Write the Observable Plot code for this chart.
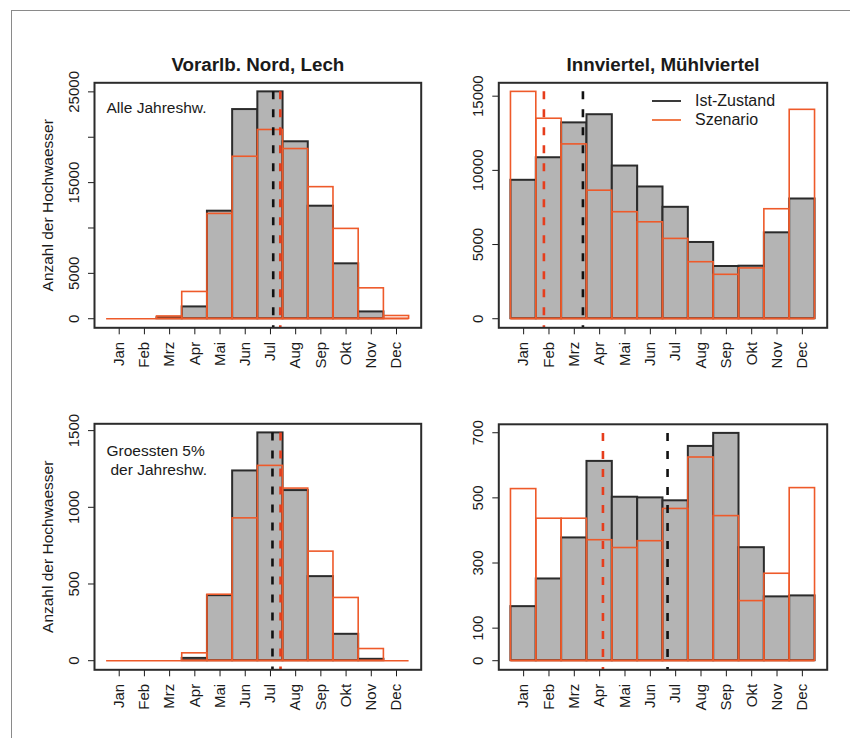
<!DOCTYPE html>
<html><head><meta charset="utf-8">
<script src="https://cdn.jsdelivr.net/npm/d3@7"></script>
<script src="https://cdn.jsdelivr.net/npm/@observablehq/plot@0.6"></script>
<style>
body{margin:0;background:#fff;}
#fig{position:relative;width:850px;height:738px;overflow:hidden;font-family:"Liberation Sans",Arial,sans-serif;color:#1a1a1a;}
#border{position:absolute;left:11px;top:10px;width:900px;height:900px;border-left:1.5px solid #8a8a8a;border-top:1.5px solid #8a8a8a;}
.panel{position:absolute;}
.lg-line{position:absolute;height:0;width:29px;}
.lg-text{position:absolute;font-size:16px;line-height:18px;white-space:nowrap;}
</style></head><body>
<div id="fig"><div id="border"></div></div>
<script>
// ---- data ----
const months = ["Jan","Feb","Mrz","Apr","Mai","Jun","Jul","Aug","Sep","Okt","Nov","Dec"];
const titles = ["Vorarlb. Nord, Lech", "Innviertel, Mühlviertel"];
const notes = ["Alle Jahreshw.", "Groessten 5%", "der Jahreshw."];
const yAxisTitle = "Anzahl der Hochwaesser";
const legendLabels = ["Ist-Zustand", "Szenario"];

// Vorarlb. Nord, Lech – alle Jahreshochwässer
const istNordAll  = [0, 0, 100, 1300, 11850, 23050, 25000, 19500, 12400, 6050, 750, 0];
const szenNordAll = [0, 0, 250, 2950, 11550, 17850, 20800, 18700, 14500, 9900, 3350, 300];
// Innviertel, Mühlviertel – alle Jahreshochwässer
const istInnAll   = [9330, 10850, 13200, 13750, 10290, 8880, 7510, 5140, 3520, 3540, 5790, 8070];
const szenInnAll  = [15290, 13480, 11750, 8630, 7180, 6500, 5380, 3810, 2960, 3390, 7380, 14080];
// Vorarlb. Nord, Lech – größten 5%
const istNord5    = [0, 0, 0, 15, 424, 1237, 1485, 1109, 548, 172, 9, 0];
const szenNord5   = [0, 0, 0, 48, 430, 928, 1270, 1122, 711, 409, 76, 0];
// Innviertel, Mühlviertel – größten 5%
const istInn5     = [166, 251, 377, 612, 502, 500, 491, 658, 698, 347, 196, 199];
const szenInn5    = [527, 436, 436, 370, 346, 367, 466, 624, 444, 183, 267, 530];

// mittlerer Monat (gestrichelte Linien)
const meanIst  = [7.11, 3.34, 7.08, 6.68];
const meanSzen = [7.39, 1.80, 7.40, 4.13];

// y-Achsen Ticks und beschriftete Ticks
const yTicksNordAll = [0, 5000, 10000, 15000, 20000, 25000];
const yLabsNordAll  = [0, 5000, 15000, 25000];
const yTicksInnAll  = [0, 5000, 10000, 15000];
const yTicksNord5   = [0, 500, 1000, 1500];
const yTicksInn5    = [0, 100, 300, 500, 700];

// ---- drawing ----
const GRAY = "#b4b4b4", DARK = "#2b2b2b", ORANGE = "#ee5a2a", RED = "#e63d1c";
const monthNums = months.map((_, i) => i + 1);
const fig = document.getElementById("fig");

function panel(cfg) {
  const ist = cfg.ist.map((v, i) => ({m: monthNums[i], v}));
  const szen = cfg.szen.map((v, i) => ({m: monthNums[i], v}));
  const ymax = d3.max([...cfg.ist, ...cfg.szen]);
  const ylo = -0.04 * ymax, yhi = 1.04 * ymax;
  const xlo = monthNums[0] - 0.5, xhi = monthNums[monthNums.length - 1] + 0.5;
  const xpad = 0.04 * (xhi - xlo);
  const marks = [
    Plot.rect(ist, {x1: d => d.m - 0.5, x2: d => d.m + 0.5, y1: 0, y2: "v", fill: GRAY, stroke: DARK, strokeWidth: 2}),
    Plot.rect(szen, {x1: d => d.m - 0.5, x2: d => d.m + 0.5, y1: 0, y2: "v", fill: "none", stroke: ORANGE, strokeWidth: 1.6}),
    Plot.ruleY([0], {x1: xlo, x2: xhi, stroke: ORANGE, strokeWidth: 1.6}),
    Plot.ruleX([cfg.mIst], {y1: ymax, y2: ylo, stroke: "#111", strokeWidth: 2.6, strokeDasharray: "8,10"}),
    Plot.ruleX([cfg.mSzen], {y1: ymax, y2: ylo, stroke: RED, strokeWidth: 2.6, strokeDasharray: "8,10"}),
    Plot.frame({stroke: DARK, strokeWidth: 2})
  ];
  if (cfg.title) marks.push(Plot.text([cfg.title], {frameAnchor: "top", dy: -25, fontSize: 18.8, fontWeight: "bold"}));
  if (cfg.ylabel) marks.push(Plot.text([cfg.ylabel], {frameAnchor: "left", textAnchor: "middle", lineAnchor: "middle", dx: -46, rotate: -90, fontSize: 15.5}));
  (cfg.notes || []).forEach(n => marks.push(Plot.text([n.t], {frameAnchor: "top-left", textAnchor: "start", dx: n.dx, dy: n.dy, fontSize: 15.5})));
  const svg = Plot.plot({
    width: cfg.w, height: cfg.h,
    marginLeft: cfg.ml, marginRight: cfg.mr, marginTop: cfg.mt, marginBottom: cfg.mb,
    style: {background: "transparent", fontFamily: "'Liberation Sans', Arial, sans-serif", fontSize: "15px", color: "#1a1a1a", overflow: "visible"},
    x: {domain: [xlo - xpad, xhi + xpad], ticks: monthNums, tickFormat: d => months[d - 1], tickRotate: -90, tickSize: 7, tickPadding: 7, label: null},
    y: {domain: [ylo, yhi], ticks: cfg.yTicks, tickFormat: d => (cfg.yLabs || cfg.yTicks).includes(d) ? String(d) : "", tickRotate: -90, tickSize: 6, tickPadding: 10, label: null},
    marks
  });
  const wrap = document.createElement("div");
  wrap.className = "panel";
  wrap.style.left = cfg.left + "px";
  wrap.style.top = cfg.top + "px";
  wrap.appendChild(svg);
  fig.appendChild(wrap);
}

panel({ist: istNordAll, szen: szenNordAll, mIst: meanIst[0], mSzen: meanSzen[0], yTicks: yTicksNordAll, yLabs: yLabsNordAll,
  title: titles[0], ylabel: yAxisTitle, notes: [{t: notes[0], dx: 12, dy: 19.5}],
  left: 0, top: 0, w: 425, h: 380, ml: 94, mr: 4.3, mt: 82.3, mb: 52.7});
panel({ist: istInnAll, szen: szenInnAll, mIst: meanIst[1], mSzen: meanSzen[1], yTicks: yTicksInnAll,
  title: titles[1],
  left: 425, top: 0, w: 425, h: 380, ml: 73.3, mr: 23.3, mt: 82.3, mb: 52.7});
panel({ist: istNord5, szen: szenNord5, mIst: meanIst[2], mSzen: meanSzen[2], yTicks: yTicksNord5,
  ylabel: yAxisTitle, notes: [{t: notes[1], dx: 12, dy: 20.7}, {t: notes[2], dx: 16, dy: 39.7}],
  left: 0, top: 380, w: 425, h: 358, ml: 94, mr: 4.3, mt: 43.3, mb: 68.7});
panel({ist: istInn5, szen: szenInn5, mIst: meanIst[3], mSzen: meanSzen[3], yTicks: yTicksInn5,
  left: 425, top: 380, w: 425, h: 358, ml: 73.3, mr: 23.3, mt: 43.8, mb: 68.7});

// legend (top-right panel)
[[legendLabels[0], "#3a3a3a", 101], [legendLabels[1], "#f07a4a", 120]].forEach(([t, c, y]) => {
  const l = document.createElement("div");
  l.className = "lg-line";
  l.style.left = "652px"; l.style.top = (y - 1) + "px"; l.style.borderTop = "2px solid " + c;
  fig.appendChild(l);
  const s = document.createElement("div");
  s.className = "lg-text";
  s.style.left = "695px"; s.style.top = (y - 9) + "px";
  s.textContent = t;
  fig.appendChild(s);
});
</script>
</body></html>
